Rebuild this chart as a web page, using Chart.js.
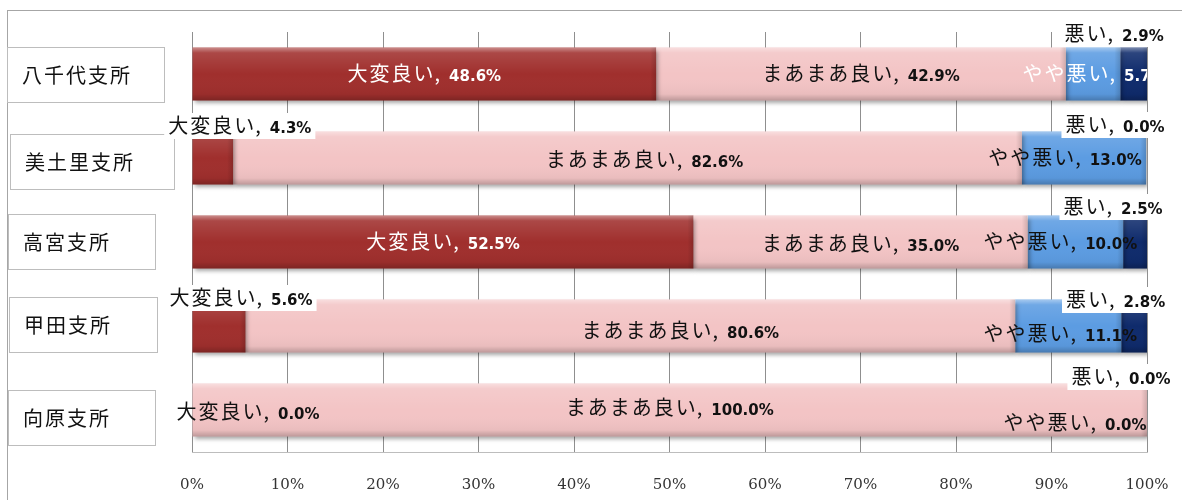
<!DOCTYPE html>
<html lang="ja">
<head>
<meta charset="utf-8">
<title>支所別 満足度</title>
<script src="https://cdn.jsdelivr.net/npm/chart.js@4/dist/chart.umd.min.js"></script>
<style>
  html, body { margin: 0; padding: 0; background: #ffffff; }
  #wrap { width: 1182px; height: 500px; }
</style>
</head>
<body>
<div id="wrap"><canvas id="chart" width="1182" height="500"></canvas></div>
<script>
// Branch offices (rows, top to bottom)
const categories = ['八千代支所', '美土里支所', '高宮支所', '甲田支所', '向原支所'];
// Rating categories (stack order, left to right)
const seriesNames = ['大変良い', 'まあまあ良い', 'やや悪い', '悪い'];
// Share of answers per branch, in percent
const veryGood    = [48.6,  4.3, 52.5,  5.6,   0.0];
const fairlyGood  = [42.9, 82.6, 35.0, 80.6, 100.0];
const somewhatBad = [ 5.7, 13.0, 10.0, 11.1,   0.0];
const bad         = [ 2.9,  0.0,  2.5,  2.8,   0.0];
// Axis ticks
const tickValues = [0, 10, 20, 30, 40, 50, 60, 70, 80, 90, 100];

const seriesValues = [veryGood, fairlyGood, somewhatBad, bad];
const seriesColors = ['#a02f2d', '#f3c4c5', '#5c9ce2', '#0f2b6c'];

const CJK = '"Noto Sans CJK JP", "Noto Sans CJK SC", sans-serif';
const NUM = '"DejaVu Sans", "Noto Sans", sans-serif';

// Label placement relative to each segment's centre: [dx, dy, textColor, whiteBox, clipToPlot]
const W = '#ffffff', K = '#111111';
const labelPlacement = [
  // 大変良い
  [[0, 0, W, false, true], [27, -32, K, true, false], [0, 0, W, false, true], [22, -28, K, true, false], [56, 2, K, false, false]],
  // まあまあ良い
  [[0, 0, K, false, true], [17, 2, K, false, true], [0, 2, K, false, true], [50, 5, K, false, true], [0, -2, K, false, true]],
  // やや悪い
  [[1, 0, W, false, true], [-19, 0, K, false, true], [-15, 0, K, false, true], [-8, 8, K, false, true], [-72, 13, K, false, true]],
  // 悪い
  [[-20, -40, K, true, false], [-31, -33, K, true, false], [-22, -35, K, true, false], [-19, -26, K, true, false], [-26, -33, K, true, false]]
];

// Name boxes on the left: [left, width, dy]
const nameBoxes = [[7, 157, 1], [10, 164, 4], [8, 147, 0], [9, 148, -1], [8, 147, 8]];

const frame = {
  id: 'frame',
  beforeDraw(chart) {
    const ctx = chart.ctx;
    ctx.save();
    ctx.fillStyle = '#ffffff';
    ctx.fillRect(0, 0, chart.width, chart.height);
    ctx.strokeStyle = '#a6a6a6';
    ctx.lineWidth = 1;
    ctx.strokeRect(7.5, 10.5, chart.width + 10, chart.height + 10);
    ctx.restore();
  }
};

// Soft drop shadow under the bars and a bevel-like shading on top of them
const barShade = {
  id: 'barShade',
  beforeDatasetsDraw(chart) {
    const ctx = chart.ctx;
    ctx.save();
    ctx.shadowColor = 'rgba(0,0,0,0.35)';
    ctx.shadowBlur = 4;
    ctx.shadowOffsetX = 2;
    ctx.shadowOffsetY = 3;
  },
  afterDatasetsDraw(chart) {
    const ctx = chart.ctx;
    ctx.restore();
    const area = chart.chartArea;
    ctx.save();
    ctx.beginPath();
    ctx.rect(area.left, area.top, area.right - area.left, area.bottom - area.top);
    ctx.clip();
    chart.data.datasets.forEach((ds, di) => {
      chart.getDatasetMeta(di).data.forEach(el => {
        const p = el.getProps(['x', 'y', 'base', 'height'], true);
        const left = Math.min(p.x, p.base), w = Math.abs(p.x - p.base);
        if (w < 0.5) return;
        const top = p.y - p.height / 2;
        const g = ctx.createLinearGradient(0, top, 0, top + p.height);
        g.addColorStop(0, 'rgba(255,255,255,0.45)');
        g.addColorStop(0.1, 'rgba(255,255,255,0.12)');
        g.addColorStop(0.5, 'rgba(255,255,255,0)');
        g.addColorStop(0.88, 'rgba(0,0,0,0.04)');
        g.addColorStop(1, 'rgba(0,0,0,0.22)');
        ctx.fillStyle = g;
        ctx.fillRect(left, top, w, p.height);
        const gx = ctx.createLinearGradient(left + w - 6, 0, left + w, 0);
        gx.addColorStop(0, 'rgba(0,0,0,0)');
        gx.addColorStop(1, 'rgba(0,0,0,0.15)');
        ctx.fillStyle = gx;
        ctx.fillRect(left + w - 6, top, 6, p.height);
      });
    });
    ctx.restore();
  }
};

function drawLabel(ctx, name, valueText, cx, cy, color, box) {
  ctx.save();
  const gap = 8;
  ctx.font = '20px ' + CJK;
  ctx.letterSpacing = '2px';
  const wName = ctx.measureText(name).width;
  ctx.letterSpacing = '0px';
  const wComma = ctx.measureText(',').width;
  ctx.font = 'bold 15px ' + NUM;
  const wVal = ctx.measureText(valueText).width;
  const total = wName + wComma + gap + wVal;
  const x0 = cx - total / 2;
  if (box) {
    ctx.fillStyle = '#ffffff';
    ctx.fillRect(x0 - 4, cy - 13, total + 8, 26);
  }
  ctx.fillStyle = color;
  ctx.textBaseline = 'alphabetic';
  ctx.textAlign = 'left';
  const base = cy + 7;
  ctx.font = '20px ' + CJK;
  ctx.letterSpacing = '2px';
  ctx.fillText(name, x0, base);
  ctx.letterSpacing = '0px';
  ctx.fillText(',', x0 + wName - 1, base);
  ctx.font = 'bold 15px ' + NUM;
  ctx.fillText(valueText, x0 + wName + wComma + gap, base);
  ctx.restore();
}

const labelsAndNames = {
  id: 'labelsAndNames',
  afterDraw(chart) {
    const ctx = chart.ctx;
    const area = chart.chartArea;
    const yScale = chart.scales.y;
    // branch name boxes
    categories.forEach((name, i) => {
      const [bx, bw, dy] = nameBoxes[i];
      const cy = yScale.getPixelForValue(i) + dy;
      ctx.save();
      ctx.fillStyle = '#ffffff';
      ctx.fillRect(bx, cy - 28, bw, 56);
      ctx.strokeStyle = '#bdbdbd';
      ctx.lineWidth = 1;
      ctx.strokeRect(bx + 0.5, cy - 27.5, bw, 55);
      ctx.fillStyle = '#111111';
      ctx.font = '20px ' + CJK;
      ctx.letterSpacing = '2px';
      ctx.textBaseline = 'middle';
      ctx.fillText(name, bx + 15, cy);
      ctx.restore();
    });
    // data labels
    chart.data.datasets.forEach((ds, di) => {
      chart.getDatasetMeta(di).data.forEach((el, i) => {
        const p = el.getProps(['x', 'y', 'base'], true);
        const [dx, dy, color, box, clip] = labelPlacement[di][i];
        const cx = (p.x + p.base) / 2 + dx;
        const cy = p.y + dy;
        ctx.save();
        if (clip) {
          ctx.beginPath();
          ctx.rect(0, 0, area.right, chart.height);
          ctx.clip();
        }
        drawLabel(ctx, seriesNames[di], ds.data[i].toFixed(1) + '%', cx, cy, color, box);
        ctx.restore();
      });
    });
  }
};

new Chart(document.getElementById('chart'), {
  type: 'bar',
  data: {
    labels: categories,
    datasets: seriesNames.map((name, k) => ({
      label: name,
      data: seriesValues[k],
      backgroundColor: seriesColors[k],
      borderWidth: 0,
      categoryPercentage: 1,
      barPercentage: 0.63
    }))
  },
  options: {
    indexAxis: 'y',
    responsive: false,
    devicePixelRatio: 1,
    animation: false,
    layout: { padding: { left: 192, right: 35, top: 32, bottom: 0 } },
    plugins: { legend: { display: false }, tooltip: { enabled: false } },
    scales: {
      x: {
        stacked: true,
        min: 0,
        max: 100,
        afterBuildTicks(scale) { scale.ticks = tickValues.map(v => ({ value: v })); },
        ticks: {
          callback: v => v + '%',
          color: '#333333',
          font: { family: '"DejaVu Serif", serif', size: 15 },
          padding: 0,
          maxRotation: 0
        },
        grid: {
          color: '#8f8f8f',
          lineWidth: 1,
          drawTicks: true,
          tickLength: 24,
          tickColor: 'rgba(0,0,0,0)'
        },
        border: { display: true, color: '#bdbdbd' },
        afterFit(scale) { scale.height = 48; }
      },
      y: { stacked: true, display: false }
    }
  },
  plugins: [frame, barShade, labelsAndNames]
});
</script>
</body>
</html>
